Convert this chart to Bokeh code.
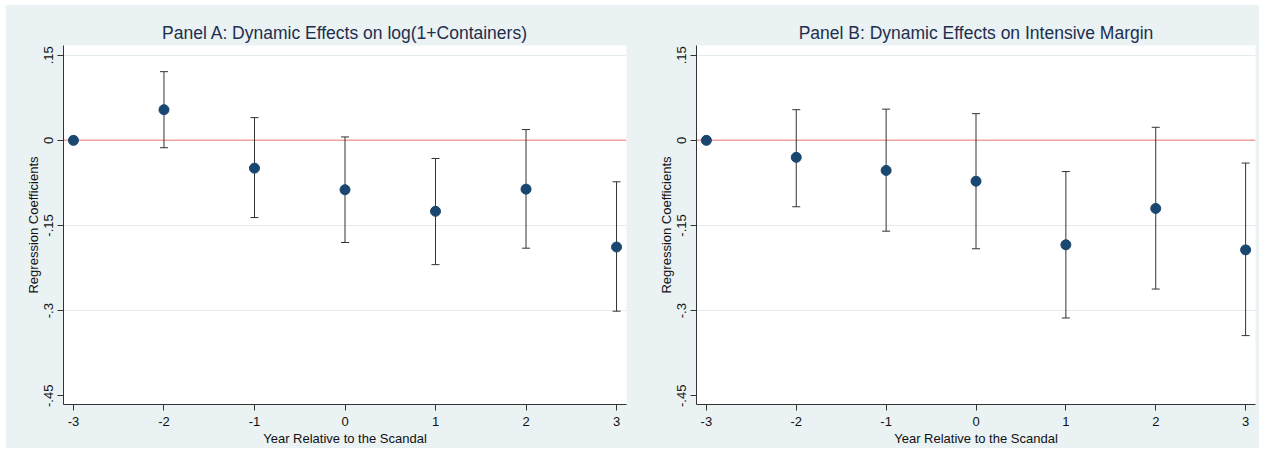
from bokeh.plotting import figure
from bokeh.models import FixedTicker, Range1d, Whisker, ColumnDataSource, Span
from bokeh.layouts import row
from bokeh.embed import file_html
from bokeh.resources import INLINE

# ---- data ----
years = [-3, -2, -1, 0, 1, 2, 3]

a_coef = [0.0, 0.054, -0.049, -0.087, -0.125, -0.086, -0.188]
a_lo = [0.0, -0.013, -0.136, -0.180, -0.219, -0.190, -0.301]
a_hi = [0.0, 0.121, 0.040, 0.006, -0.032, 0.019, -0.073]

b_coef = [0.0, -0.030, -0.053, -0.072, -0.184, -0.120, -0.193]
b_lo = [0.0, -0.117, -0.160, -0.191, -0.313, -0.262, -0.344]
b_hi = [0.0, 0.054, 0.055, 0.047, -0.055, 0.023, -0.040]

titles = ["Panel A: Dynamic Effects on log(1+Containers)",
          "Panel B: Dynamic Effects on Intensive Margin"]
y_ticks = [0.15, 0.0, -0.15, -0.3, -0.45]
y_tick_labels = [".15", "0", "-.15", "-.3", "-.45"]
x_ticks = [-3, -2, -1, 0, 1, 2, 3]
x_tick_labels = ["-3", "-2", "-1", "0", "1", "2", "3"]
x_label = "Year Relative to the Scandal"
y_label = "Regression Coefficients"

BG = "#EAF2F3"
NAVY = "#1A476F"
FONT = "Liberation Sans"


def make_panel(title, coef, lo, hi, width, border_left, border_right):
    p = figure(width=width, height=443, output_backend="svg", toolbar_location=None,
               x_range=Range1d(-3.11, 3.11), y_range=Range1d(-0.4654, 0.1671),
               min_border_left=border_left, min_border_right=border_right,
               min_border_top=40, min_border_bottom=37)
    p.background_fill_color = "white"
    p.border_fill_color = BG
    p.outline_line_color = None

    p.title.text = title
    p.title.align = "center"
    p.title.text_font = FONT
    p.title.text_font_size = "17.5px"
    p.title.text_font_style = "normal"
    p.title.text_color = "#1E2E4E"
    p.title.standoff = 5

    src = ColumnDataSource(dict(x=years, y=coef, lo=lo, hi=hi))

    p.add_layout(Span(location=0, dimension="width", line_color="#F4A0A0",
                      line_width=1.5, level="underlay"))

    w = Whisker(base="x", lower="lo", upper="hi", source=src, dimension="height",
                line_color="#333333", line_width=1)
    w.upper_head.size = 8
    w.lower_head.size = 8
    w.upper_head.line_color = "#333333"
    w.lower_head.line_color = "#333333"
    p.add_layout(w)

    p.scatter("x", "y", source=src, size=10, fill_color=NAVY, line_color=NAVY)

    # axes
    p.xaxis.ticker = FixedTicker(ticks=x_ticks)
    p.xaxis.major_label_overrides = {t: l for t, l in zip(x_ticks, x_tick_labels)}
    p.yaxis.ticker = FixedTicker(ticks=y_ticks)
    p.yaxis.major_label_overrides = {t: l for t, l in zip(y_ticks, y_tick_labels)}
    p.yaxis.major_label_orientation = "vertical"
    for ax in (p.xaxis[0], p.yaxis[0]):
        ax.axis_line_color = "#333333"
        ax.major_tick_line_color = "#333333"
        ax.major_tick_in = 0
        ax.major_tick_out = 6
        ax.minor_tick_line_color = None
        ax.major_label_text_font = FONT
        ax.major_label_text_font_size = "13px"
        ax.major_label_text_color = "#111111"
        ax.axis_label_text_font = FONT
        ax.axis_label_text_font_size = "13px"
        ax.axis_label_text_font_style = "normal"
        ax.axis_label_text_color = "#111111"
        ax.major_label_standoff = 4
        ax.axis_label_standoff = 1
    p.xaxis.major_label_standoff = 6
    p.xaxis.axis_label_standoff = 2
    p.xaxis.axis_label = x_label
    p.yaxis.axis_label = y_label

    p.xgrid.grid_line_color = None
    p.ygrid.ticker = FixedTicker(ticks=[0.15, -0.15, -0.3])
    p.ygrid.grid_line_color = "#E3EDF0"
    p.ygrid.grid_line_width = 1
    return p


p1 = make_panel(titles[0], a_coef, a_lo, a_hi, 630, 57, 10)
p2 = make_panel(titles[1], b_coef, b_lo, b_hi, 623, 60, 4)

layout = row(p1, p2, margin=(5, 0, 0, 6), styles={"background-color": BG})
open("out.html", "w").write(file_html(layout, INLINE))
